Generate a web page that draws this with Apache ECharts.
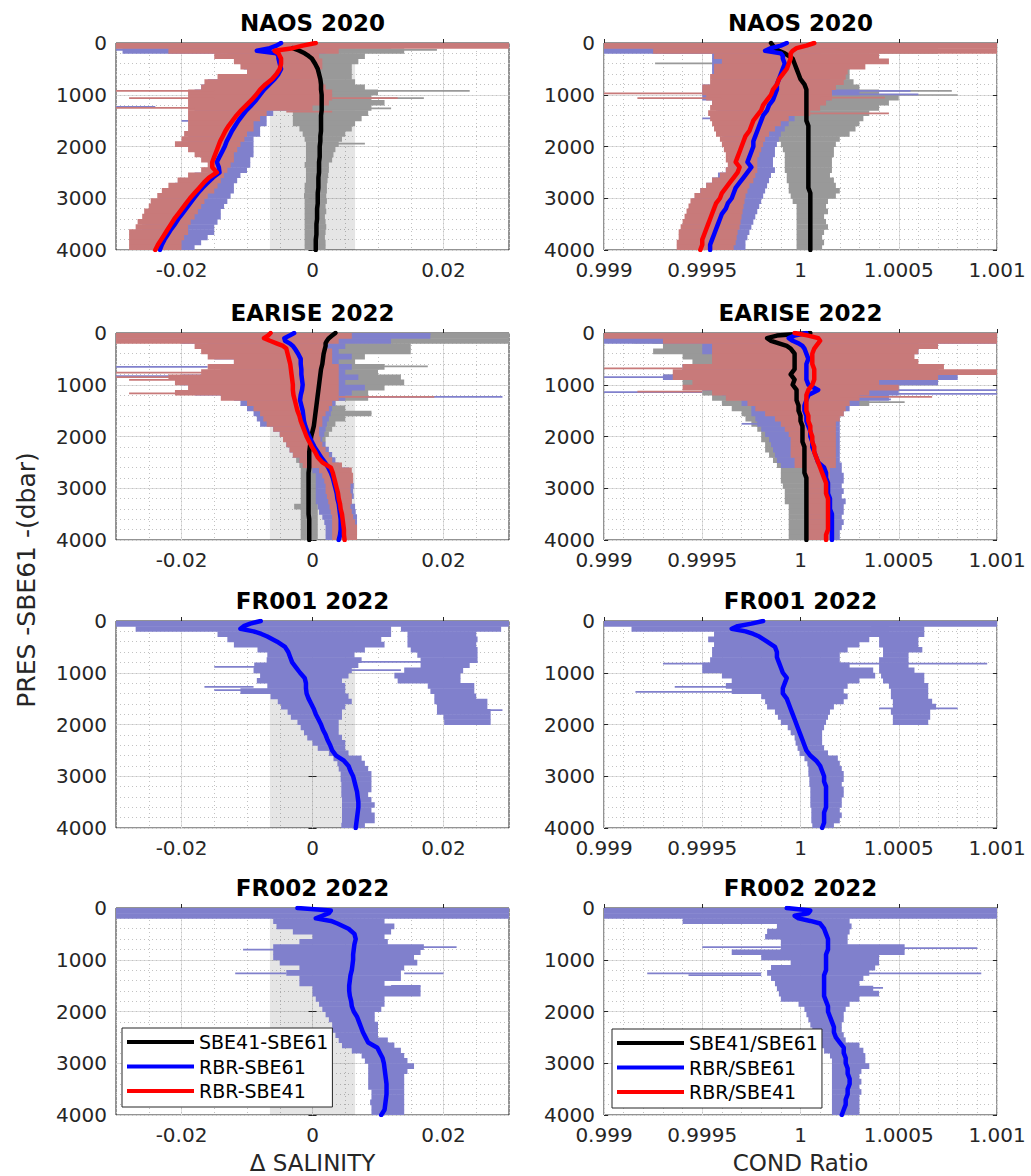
<!DOCTYPE html>
<html>
<head>
<meta charset="utf-8">
<title>Float sensor comparison profiles</title>
<script src="https://cdn.jsdelivr.net/npm/echarts@6/dist/echarts.min.js"></script>
<style>
  html, body { margin: 0; padding: 0; background: #ffffff; }
  #chart { width: 1031px; height: 1176px; }
</style>
</head>
<body>
<div id="chart"></div>
<script>
// ---------------------------------------------------------------------------
// Depth grids (dbar)
// ---------------------------------------------------------------------------
const BIN_EDGES = [0, 100, 200, 300, 400, 500, 600, 700, 800, 900, 1000, 1100, 1200, 1300,
  1400, 1500, 1600, 1700, 1800, 1900, 2000, 2100, 2200, 2300, 2400, 2500, 2600, 2700,
  2800, 2900, 3000, 3100, 3200, 3300, 3400, 3500, 3600, 3700, 3800, 3900, 4000];
const MED_DEPTH = [0, 50, 100, 150, 200, 250, 300,
  400, 500, 600, 700, 800, 900, 1000, 1100, 1200, 1300,
  1400, 1500, 1600, 1700, 1800, 1900, 2000, 2100, 2200, 2300,
  2400, 2500, 2600, 2700, 2800, 2900, 3000, 3100, 3200, 3300,
  3400, 3500, 3600, 3700, 3800, 3900, 4000];

const PRES_RANGE = [0, 4000];
const PRES_TICKS = [0, 1000, 2000, 3000, 4000];
const SAL_RANGE = [-0.03, 0.03];
const SAL_TICKS = [-0.02, 0, 0.02];
const COND_RANGE = [0.999, 1.001];
const COND_TICKS = [0.999, 0.9995, 1, 1.0005, 1.001];
const SALINITY_BAND = [-0.0065, 0.0065];

const SAL_NAMES = ['SBE41-SBE61', 'RBR-SBE61', 'RBR-SBE41'];
const COND_NAMES = ['SBE41/SBE61', 'RBR/SBE61', 'RBR/SBE41'];
const PANEL_TITLES = ['NAOS 2020', 'NAOS 2020', 'EARISE 2022', 'EARISE 2022',
  'FR001 2022', 'FR001 2022', 'FR002 2022', 'FR002 2022'];

// ---------------------------------------------------------------------------
// NAOS 2020 - salinity differences (per 100 dbar bin: min / max, then medians)
// ---------------------------------------------------------------------------
const NAOS_SAL_GREY_LO = [-0.005,-0.004,-0.003,-0.002,-0.002,-0.002,-0.002,-0.002,-0.002,-0.002,
  -0.002,-0.002,-0.002,-0.003,-0.003,-0.003,-0.002,-0.0015,-0.0012,-0.001,
  -0.001,-0.001,-0.001,-0.0012,-0.001,-0.001,-0.001,-0.0012,-0.0012,-0.0013,
  -0.0012,-0.0012,-0.0012,-0.0012,-0.0012,-0.0012,-0.0012,-0.0012,-0.0012,-0.0012];
const NAOS_SAL_GREY_HI = [0.012,0.014,0.008,0.007,0.006,0.006,0.006,0.0065,0.008,0.01,
  0.009,0.011,0.009,0.0085,0.0075,0.0065,0.006,0.005,0.0045,0.004,
  0.0035,0.0032,0.003,0.0025,0.0025,0.0024,0.0023,0.0022,0.0022,0.0021,
  0.0022,0.002,0.0021,0.0019,0.002,0.0021,0.002,0.0019,0.002,0.002];
const NAOS_SAL_BLUE_LO = [-0.03,-0.029,-0.013,-0.011,-0.0105,-0.01,-0.014,-0.016,-0.017,-0.018,
  -0.018,-0.018,-0.018,-0.018,-0.018,-0.018,-0.018,-0.019,-0.019,-0.02,
  -0.018,-0.017,-0.016,-0.0155,-0.016,-0.018,-0.019,-0.021,-0.022,-0.023,
  -0.0235,-0.024,-0.0245,-0.025,-0.0255,-0.026,-0.027,-0.027,-0.027,-0.027];
const NAOS_SAL_BLUE_HI = [0.003,0.002,-0.001,-0.002,-0.002,-0.003,-0.002,-0.002,-0.001,0.0,
  0.001,0.0,-0.002,-0.006,-0.007,-0.007,-0.008,-0.008,-0.009,-0.009,
  -0.009,-0.009,-0.0095,-0.0095,-0.01,-0.011,-0.0115,-0.012,-0.012,-0.0125,
  -0.013,-0.0135,-0.014,-0.014,-0.0145,-0.015,-0.015,-0.016,-0.017,-0.018];
const NAOS_SAL_RED_LO = [-0.03,-0.022,-0.015,-0.012,-0.011,-0.01,-0.0145,-0.0165,-0.017,-0.019,
  -0.019,-0.019,-0.019,-0.019,-0.019,-0.019,-0.019,-0.0196,-0.02,-0.021,
  -0.019,-0.018,-0.017,-0.016,-0.017,-0.019,-0.0206,-0.022,-0.023,-0.0237,
  -0.0247,-0.025,-0.0257,-0.026,-0.0267,-0.027,-0.028,-0.028,-0.028,-0.028];
const NAOS_SAL_RED_HI = [0.03,0.004,0.001,0.0015,0.0015,0.001,0.001,0.0015,0.002,0.003,
  0.003,0.0025,0.0,-0.007,-0.008,-0.009,-0.009,-0.01,-0.0104,-0.011,
  -0.0115,-0.012,-0.012,-0.0125,-0.013,-0.0135,-0.014,-0.0145,-0.015,-0.016,
  -0.0165,-0.017,-0.0175,-0.018,-0.0186,-0.019,-0.019,-0.0196,-0.02,-0.02];
// single-profile outliers: [pressure, min, max]
const NAOS_SAL_GREY_SPIKES = [[130,0.004,0.019],[920,0.001,0.024],[1060,0.001,0.017],[1260,0.001,0.012],[1940,0.001,0.008]];
const NAOS_SAL_BLUE_SPIKES = [[130,-0.03,-0.02],[1230,-0.03,-0.024],[1500,-0.02,-0.016]];
const NAOS_SAL_RED_SPIKES = [[920,-0.03,-0.015],[1060,-0.028,-0.015],[1250,-0.03,-0.018],[1060,0.003,0.013],[1320,-0.004,0.003]];
const NAOS_SAL_BLACK = [null,null,-0.003,-0.002,-0.0012,-0.0006,-0.0001,
  0.0004,0.0008,0.001,0.0012,0.0013,0.0013,0.0014,0.0014,0.0014,0.0014,
  0.0013,0.0013,0.0013,0.0013,0.0012,0.0012,0.0011,0.0011,0.0011,0.001,
  0.001,0.001,0.0009,0.0009,0.0009,0.0008,0.0008,0.0008,0.0007,0.0007,
  0.0007,0.0006,0.0006,0.0006,0.0005,0.0005,0.0005];
const NAOS_SAL_BLUE = [-0.0048,-0.0055,-0.0065,-0.0085,-0.0055,-0.0052,-0.0052,
  -0.005,-0.0048,-0.0052,-0.0058,-0.0066,-0.0074,-0.008,-0.0086,-0.0093,-0.0101,
  -0.0107,-0.0113,-0.0118,-0.0123,-0.0127,-0.0131,-0.0134,-0.0138,-0.0142,-0.0146,
  -0.0143,-0.0142,-0.0152,-0.016,-0.0168,-0.0175,-0.0181,-0.0187,-0.0193,-0.0199,
  -0.0205,-0.021,-0.0216,-0.0221,-0.0226,-0.023,-0.0233];
const NAOS_SAL_RED = [0.0005,-0.0015,-0.003,-0.0058,-0.0052,-0.005,-0.0048,
  -0.0048,-0.005,-0.0055,-0.0062,-0.0072,-0.008,-0.0086,-0.0093,-0.0101,-0.0109,
  -0.0116,-0.0122,-0.0128,-0.0133,-0.0137,-0.0141,-0.0144,-0.0147,-0.015,-0.0153,
  -0.0153,-0.0146,-0.0158,-0.0166,-0.0173,-0.018,-0.0187,-0.0193,-0.0199,-0.0205,
  -0.0211,-0.0216,-0.0221,-0.0226,-0.0231,-0.0236,-0.024];

// ---------------------------------------------------------------------------
// NAOS 2020 - conductivity ratios
// ---------------------------------------------------------------------------
const NAOS_COND_GREY_LO = [0.9998,0.9993,0.9996,0.9996,0.9997,0.9997,0.9997,0.9997,0.9997,0.9997,
  0.9997,0.9997,0.99975,0.99975,0.9998,0.99982,0.99985,0.99987,0.99988,0.9999,
  0.99991,0.99992,0.99992,0.99992,0.99992,0.99993,0.99993,0.99994,0.99994,0.99995,
  0.99996,0.99998,0.99998,0.99998,0.99998,0.99998,0.99998,0.99998,0.99998,0.99998];
const NAOS_COND_GREY_HI = [1.0006,1.0007,1.00035,1.0003,1.00025,1.00025,1.00025,1.00027,1.0003,1.0004,
  1.0005,1.00045,1.0004,1.00035,1.00032,1.0003,1.00028,1.00025,1.0002,1.00018,
  1.00017,1.00017,1.00016,1.00016,1.00016,1.00015,1.00017,1.00018,1.0002,1.00018,
  1.00014,1.00013,1.00014,1.00012,1.00013,1.00014,1.00012,1.00011,1.00012,1.00011];
const NAOS_COND_BLUE_LO = [0.999,0.999,0.99955,0.99955,0.99955,0.99955,0.99955,0.99955,0.9995,0.9995,
  0.9995,0.99955,0.99957,0.99958,0.99958,0.99958,0.99959,0.9996,0.99961,0.99962,
  0.99963,0.99964,0.99965,0.99965,0.99962,0.99958,0.99955,0.99952,0.99949,0.99947,
  0.99945,0.99944,0.99943,0.99942,0.99941,0.9994,0.99939,0.99939,0.99939,0.99939];
const NAOS_COND_BLUE_HI = [1.0002,1.0001,1.0001,1.00005,1.00005,1.00005,1.00005,1.00015,1.00015,1.0003,
  1.00015,1.0001,1.00005,0.99998,0.99997,0.99994,0.99992,0.9999,0.99989,0.99988,
  0.99987,0.99987,0.99986,0.99986,0.99987,0.99985,0.99984,0.99983,0.99982,0.99981,
  0.9998,0.99979,0.99978,0.99977,0.99976,0.99975,0.99974,0.99973,0.99972,0.99972];
const NAOS_COND_RED_LO = [0.999,0.99925,0.99956,0.9996,0.99956,0.99956,0.99954,0.99954,0.9995,0.9995,
  0.99952,0.99955,0.99954,0.99953,0.99954,0.99955,0.99956,0.99957,0.99959,0.9996,
  0.99961,0.99962,0.99962,0.99963,0.99962,0.99959,0.99955,0.99952,0.99949,0.99946,
  0.99944,0.99943,0.99942,0.99941,0.9994,0.99939,0.99938,0.99938,0.99937,0.99937];
const NAOS_COND_RED_HI = [1.001,1.001,1.0004,1.00045,1.00033,1.00024,1.00023,1.00022,1.00018,1.00016,
  1.00016,1.00013,1.0001,1.00005,0.99994,0.9999,0.99987,0.99984,0.99982,0.99981,
  0.9998,0.99979,0.99978,0.99978,0.99978,0.99977,0.99976,0.99974,0.99973,0.99972,
  0.999715,0.99971,0.999705,0.9997,0.999695,0.99969,0.99968,0.999675,0.99967,0.99966];
const NAOS_COND_GREY_SPIKES = [[390,0.99926,0.9997],[920,1.0001,1.00077],[1000,1.0001,1.0008],[150,0.9996,1.00095]];
const NAOS_COND_BLUE_SPIKES = [[130,0.999,0.99935],[920,1.00003,1.00056],[990,1.00005,1.0006],[1450,0.9995,0.99975]];
const NAOS_COND_RED_SPIKES = [[970,0.999,0.9995],[1060,0.99917,0.9996],[1050,1.0001,1.00043],[1355,1.0,1.00045]];
const NAOS_COND_BLACK = [0.99985,0.99986,0.99987,0.99989,0.99992,0.99994,0.99996,
  0.99997,0.99998,0.99999,1.0,1.00002,1.00003,1.00003,1.00003,1.00003,1.00003,
  1.00003,1.00003,1.00004,1.00004,1.00004,1.00004,1.00004,1.00004,1.00004,1.00004,
  1.00004,1.00004,1.00004,1.00004,1.00004,1.00005,1.00005,1.00005,1.00005,1.00005,
  1.00005,1.00005,1.00005,1.00005,1.00005,1.00005,1.00005];
const NAOS_COND_BLUE = [0.99993,0.9999,0.99985,0.99982,0.9999,0.99991,0.99991,
  0.99992,0.99991,0.9999,0.99989,0.99988,0.99988,0.99987,0.99986,0.99984,0.99983,
  0.99981,0.9998,0.99979,0.99978,0.99977,0.99976,0.99976,0.99975,0.99974,0.99973,
  0.99975,0.99973,0.99971,0.99969,0.99967,0.99966,0.99965,0.99963,0.99962,0.9996,
  0.99959,0.99958,0.99957,0.99956,0.99955,0.99954,0.99954];
const NAOS_COND_RED = [1.00007,1.00003,0.99998,0.99996,0.99995,0.99995,0.99995,
  0.99994,0.99993,0.99991,0.99989,0.99988,0.99986,0.99985,0.99983,0.99981,0.9998,
  0.99978,0.99976,0.99975,0.99974,0.99972,0.99971,0.9997,0.99969,0.99968,0.99967,
  0.99969,0.99968,0.99966,0.99964,0.99962,0.9996,0.99959,0.99957,0.99956,0.99955,
  0.99954,0.99953,0.99952,0.99951,0.9995,0.9995,0.99949];

// ---------------------------------------------------------------------------
// EARISE 2022 - salinity differences
// ---------------------------------------------------------------------------
const EARISE_SAL_GREY_LO = [-0.001,-0.001,-0.001,-0.001,-0.001,-0.001,-0.001,-0.001,-0.001,-0.001,
  -0.001,-0.001,-0.001,-0.002,-0.002,-0.002,-0.002,-0.002,-0.002,-0.002,
  -0.002,-0.002,-0.002,-0.0025,-0.0025,-0.002,-0.0018,-0.0018,-0.0018,-0.0018,
  -0.0018,-0.0018,-0.0018,-0.0028,-0.0018,-0.0018,-0.0018,-0.0018,-0.0018,-0.0018];
const EARISE_SAL_GREY_HI = [0.03,0.03,0.015,0.015,0.008,0.0065,0.011,0.01,0.0135,0.014,
  0.011,0.0085,0.0085,0.0035,0.005,0.009,0.005,0.0035,0.003,0.0025,
  0.002,0.0018,0.0015,0.001,0.001,0.0008,0.0008,0.0008,0.0008,0.0008,
  0.0008,0.0008,0.0008,0.0008,0.0008,0.0008,0.0008,0.0008,0.0008,0.0008];
const EARISE_SAL_BLUE_LO = [-0.03,-0.02,-0.016,-0.015,-0.015,-0.012,-0.014,-0.014,-0.02,-0.02,
  -0.018,-0.018,-0.012,-0.011,-0.01,-0.009,-0.0085,-0.008,-0.006,-0.005,
  -0.004,-0.004,-0.0035,-0.003,-0.002,-0.001,0.0,0.0005,0.0005,0.0005,
  0.0005,0.0005,0.0005,0.0008,0.001,0.0015,0.0018,0.002,0.002,0.002];
const EARISE_SAL_BLUE_HI = [0.018,0.012,0.005,0.004,0.006,0.004,0.006,0.005,0.007,0.005,
  0.008,0.006,0.005,0.0035,0.003,0.0028,0.0025,0.0022,0.002,0.0018,
  0.0015,0.002,0.0025,0.003,0.0035,0.004,0.0055,0.006,0.0062,0.0063,
  0.0062,0.0063,0.006,0.0065,0.0066,0.0068,0.0068,0.0068,0.0068,0.0065];
const EARISE_SAL_RED_LO = [-0.03,-0.03,-0.018,-0.017,-0.016,-0.012,-0.016,-0.017,-0.022,-0.021,
  -0.019,-0.021,-0.014,-0.01,-0.009,-0.008,-0.0075,-0.007,-0.006,-0.005,
  -0.0045,-0.004,-0.0035,-0.003,-0.002,-0.0015,0.001,0.0015,0.0018,0.002,
  0.002,0.0022,0.0024,0.0026,0.0028,0.003,0.003,0.003,0.003,0.003];
const EARISE_SAL_RED_HI = [0.006,0.004,0.002,0.003,0.003,0.003,0.004,0.004,0.004,0.004,
  0.004,0.004,0.004,0.003,0.0025,0.002,0.0015,0.0015,0.001,0.001,
  0.0012,0.0015,0.002,0.0025,0.003,0.0045,0.006,0.0062,0.0062,0.0058,
  0.0058,0.006,0.006,0.0058,0.006,0.0062,0.0065,0.0068,0.0068,0.0068];
const EARISE_SAL_GREY_SPIKES = [[640,0.008,0.0176],[1550,0.003,0.009]];
const EARISE_SAL_BLUE_SPIKES = [[20,0.005,0.018],[650,-0.03,-0.016],[830,-0.03,-0.02],[1230,0.008,0.029]];
const EARISE_SAL_RED_SPIKES = [[760,-0.03,-0.016],[850,-0.03,-0.02],[900,-0.028,-0.02],[1160,-0.028,-0.018],[1230,0.004,0.0186]];
const EARISE_SAL_BLACK = [0.0035,0.003,0.0025,0.0022,0.002,0.002,0.0019,
  0.0017,0.0016,0.0015,0.0013,0.0012,0.0011,0.001,0.0009,0.0008,0.0007,
  0.0006,0.0005,0.0004,0.0003,0.0002,0.0,-0.0002,-0.0003,-0.0004,-0.0005,
  -0.0005,-0.0005,-0.0005,-0.0006,-0.0006,-0.0006,-0.0006,-0.0006,-0.0006,-0.0006,
  -0.0006,-0.0006,-0.0005,-0.0005,-0.0005,-0.0005,-0.0005];
const EARISE_SAL_BLUE = [-0.0028,-0.0035,-0.0043,-0.0042,-0.0035,-0.003,-0.0027,
  -0.0022,-0.0018,-0.0018,-0.0017,-0.0017,-0.0016,-0.0015,-0.0016,-0.0018,-0.0019,
  -0.0017,-0.0015,-0.0014,-0.0013,-0.0011,-0.0008,-0.0005,-0.0001,0.0003,0.0008,
  0.0013,0.0019,0.0024,0.0028,0.0031,0.0033,0.0035,0.0037,0.0038,0.004,
  0.0041,0.0042,0.0043,0.0043,0.0043,0.0042,0.004];
const EARISE_SAL_RED = [-0.0064,-0.0068,-0.0074,-0.0065,-0.0055,-0.0045,-0.004,
  -0.0038,-0.0036,-0.0034,-0.0033,-0.0032,-0.0031,-0.003,-0.003,-0.0029,-0.0027,
  -0.0025,-0.0023,-0.002,-0.0018,-0.0015,-0.0012,-0.0009,-0.0005,-0.0001,0.0004,
  0.0008,0.0015,0.0028,0.0031,0.0033,0.0035,0.0037,0.0039,0.004,0.0042,
  0.0043,0.0045,0.0046,0.0047,0.0048,0.0048,0.0049];

// ---------------------------------------------------------------------------
// EARISE 2022 - conductivity ratios
// ---------------------------------------------------------------------------
const EARISE_COND_GREY_LO = [0.9995,0.99925,0.9993,0.99925,0.9994,0.99945,0.9994,0.9994,0.9993,0.9994,
  0.9995,0.9995,0.99955,0.9996,0.99965,0.9997,0.99972,0.99975,0.99978,0.9998,
  0.9998,0.99982,0.99982,0.99984,0.99986,0.99988,0.9999,0.9999,0.9999,0.99991,
  0.99992,0.99992,0.99992,0.99994,0.99994,0.99994,0.99994,0.99994,0.99994,0.99994];
const EARISE_COND_GREY_HI = [1.0006,1.0006,1.0003,1.0003,1.0003,1.0003,1.0005,1.0007,1.00072,1.0007,
  1.0004,1.0003,1.0003,1.00035,1.0002,1.00015,1.00012,1.0001,1.0001,1.00008,
  1.00006,1.00006,1.00006,1.00006,1.00006,1.00006,1.00006,1.00006,1.00006,1.00006,
  1.00006,1.00006,1.00006,1.00006,1.00006,1.00006,1.00006,1.00006,1.00006,1.00006];
const EARISE_COND_BLUE_LO = [0.999,0.999,0.9995,0.9995,0.9996,0.9996,0.9994,0.9995,0.9993,0.9995,
  0.9995,0.9996,0.9997,0.9997,0.99975,0.99975,0.99977,0.99978,0.9998,0.99982,
  0.99984,0.99985,0.99986,0.99987,0.99988,0.9999,1.00005,1.00005,1.00005,1.00005,
  1.00005,1.00005,1.00005,1.00005,1.00005,1.00005,1.00005,1.00005,1.00005,1.00005];
const EARISE_COND_BLUE_HI = [1.001,1.001,1.0005,1.0006,1.0005,1.0005,1.0006,1.0007,1.0008,1.0007,
  1.0005,1.0005,1.00045,1.0003,1.00025,1.00022,1.0002,1.0002,1.0002,1.0002,
  1.0002,1.0002,1.0002,1.0002,1.0002,1.00021,1.00021,1.00022,1.00022,1.00021,
  1.00022,1.00021,1.00023,1.00022,1.00022,1.00021,1.00022,1.00021,1.0002,1.0002];
const EARISE_COND_RED_LO = [0.999,0.9993,0.99955,0.99955,0.99955,0.99955,0.9994,0.99935,0.99935,0.99945,
  0.9994,0.99955,0.99962,0.99973,0.99977,0.99982,0.99987,0.9999,0.99992,0.99994,
  0.99995,0.99995,0.99995,0.99995,0.99997,0.99997,1.00003,1.00003,1.00003,1.00003,
  1.00003,1.00003,1.00003,1.00003,1.00003,1.00003,1.00003,1.00003,1.00003,1.00003];
const EARISE_COND_RED_HI = [1.001,1.001,1.0007,1.0006,1.00058,1.0006,1.00073,1.001,1.0007,1.0004,
  1.0005,1.00035,1.0003,1.00025,1.00023,1.00022,1.0002,1.00018,1.00018,1.00018,
  1.00018,1.00018,1.00018,1.00018,1.00018,1.00018,1.00015,1.00015,1.00015,1.00015,
  1.00015,1.00015,1.00015,1.00015,1.00015,1.00015,1.00015,1.00015,1.00015,1.00015];
const EARISE_COND_GREY_SPIKES = [[1330,0.9996,1.00053],[180,0.99915,0.9994]];
const EARISE_COND_BLUE_SPIKES = [[100,0.999,0.99954],[140,0.999,0.99944],[850,0.999,0.99935],[1140,0.999,0.9995],
  [1100,1.0004,1.001],[1170,1.0004,1.001],[1280,1.0002,1.00046],[1750,0.9997,0.9998]];
const EARISE_COND_RED_SPIKES = [[680,0.999,0.9994],[1130,0.99917,0.9995],[1230,1.0002,1.00067]];
const EARISE_COND_BLACK = [1.00005,0.99988,0.99983,0.99985,0.99989,0.99993,0.99995,
  0.99997,0.99997,0.99997,0.99997,0.99995,0.99997,0.99996,0.99998,0.99998,0.99998,
  0.99999,0.99999,1.0,1.0,1.00001,1.00001,1.00001,1.00001,1.00002,1.00002,
  1.00002,1.00002,1.00002,1.00002,1.00003,1.00003,1.00003,1.00003,1.00003,1.00003,
  1.00003,1.00003,1.00003,1.00003,1.00003,1.00003,1.00003];
const EARISE_COND_BLUE = [1.00003,0.99997,0.99994,0.99996,0.99999,1.00001,1.00002,
  1.00003,1.00004,1.00003,1.00003,1.00003,1.00003,1.00004,1.00009,1.00004,1.00003,
  1.00002,1.00002,1.00003,1.00003,1.00004,1.00005,1.00005,1.00006,1.00006,1.00007,
  1.00008,1.00009,1.00012,1.00013,1.00013,1.00014,1.00014,1.00014,1.00015,1.00015,
  1.00015,1.00016,1.00016,1.00016,1.00016,1.00016,1.00016];
const EARISE_COND_RED = [0.99997,1.00004,1.00009,1.0001,1.00009,1.00008,1.00007,
  1.00006,1.00006,1.00006,1.00007,1.00007,1.00007,1.00006,1.00004,1.00003,1.00003,
  1.00003,1.00003,1.00004,1.00004,1.00005,1.00005,1.00006,1.00006,1.00007,1.00007,
  1.00008,1.00009,1.0001,1.00011,1.00012,1.00013,1.00013,1.00013,1.00014,1.00014,
  1.00014,1.00014,1.00014,1.00014,1.00014,1.00013,1.00013];

// ---------------------------------------------------------------------------
// FR001 2022 (RBR vs SBE61 only; a second group of profiles sits at high offsets)
// ---------------------------------------------------------------------------
const FR001_SAL_BLUE_LO = [-0.03,-0.027,-0.0145,-0.013,-0.012,-0.0084,-0.0069,-0.007,-0.0089,-0.009,
  -0.008,-0.0085,-0.0069,-0.011,-0.0064,-0.0053,-0.0048,-0.0038,-0.0033,-0.0023,
  -0.0018,-0.0013,-0.0008,0.0,0.0008,0.0025,0.0032,0.0038,0.004,0.0043,
  0.0043,0.0044,0.0044,0.0044,0.0045,0.0045,0.0045,0.0045,0.0045,0.0044];
const FR001_SAL_BLUE_HI = [0.03,0.012,0.012,0.0105,0.011,0.008,0.0064,0.0075,0.007,0.006,
  0.0055,0.0045,0.005,0.005,0.0055,0.006,0.005,0.0045,0.0045,0.004,
  0.004,0.004,0.0045,0.005,0.005,0.0055,0.0075,0.008,0.0085,0.009,
  0.009,0.009,0.009,0.0085,0.009,0.0095,0.009,0.0095,0.0095,0.008];
const FR001_SAL_OUTER_LO = [null,0.0135,0.0145,0.0145,0.0145,0.015,0.016,0.0165,0.0165,0.014,
  0.0125,0.013,0.0176,0.018,0.0186,0.0186,0.019,0.019,0.02,0.0201,
  null,null,null,null,null,null,null,null,null,null,
  null,null,null,null,null,null,null,null,null,null];
const FR001_SAL_OUTER_HI = [null,0.0288,0.025,0.0252,0.025,0.0252,0.0252,0.0252,0.024,0.023,
  0.0226,0.0226,0.0247,0.0247,0.025,0.0267,0.0267,0.0272,0.0272,0.0272,
  null,null,null,null,null,null,null,null,null,null,
  null,null,null,null,null,null,null,null,null,null];
const FR001_SAL_BLUE_SPIKES = [[784,0.0023,0.0252],[881,-0.015,-0.008],[945,0.004,0.0135],[1267,-0.0165,-0.009],[1331,-0.015,-0.009],[1717,0.024,0.029]];
const FR001_SAL_BLUE = [-0.0079,-0.0095,-0.0105,-0.011,-0.009,-0.0078,-0.0069,
  -0.0054,-0.0042,-0.0037,-0.0034,-0.0031,-0.0025,-0.0019,-0.0012,-0.001,-0.001,
  -0.0009,-0.0006,-0.0002,0.0002,0.0005,0.0009,0.0013,0.0016,0.002,0.0023,
  0.0027,0.003,0.0036,0.0048,0.0055,0.0058,0.0062,0.0064,0.0066,0.0068,
  0.0069,0.007,0.007,0.0069,0.0068,0.0067,0.0066];

const FR001_COND_BLUE_LO = [0.999,0.99914,0.99956,0.99953,0.99956,0.99955,0.99955,0.99954,0.9995,0.9995,
  0.9996,0.99965,0.99962,0.99965,0.9998,0.99982,0.99983,0.99987,0.999885,0.9999,
  0.999935,0.99995,0.99997,0.999975,0.999985,0.999995,1.00002,1.000035,1.00004,1.00004,
  1.000045,1.000045,1.00005,1.00005,1.00005,1.00005,1.000055,1.000055,1.000055,1.00006];
const FR001_COND_BLUE_HI = [1.001,1.00045,1.0004,1.00035,1.0003,1.00024,1.0002,1.0002,1.00025,1.00037,
  1.00038,1.0003,1.00024,1.00022,1.00024,1.00022,1.00017,1.00015,1.00014,1.00013,
  1.00012,1.00011,1.00011,1.00011,1.00012,1.00014,1.00019,1.0002,1.00021,1.00022,
  1.00022,1.00021,1.00022,1.00022,1.00021,1.00021,1.0002,1.00021,1.0002,1.00017];
const FR001_COND_OUTER_LO = [null,1.00036,1.00036,1.0004,1.0004,1.00042,1.00042,1.0004,1.0004,1.0004,
  1.00041,1.00042,1.00045,1.00046,1.00046,1.00047,1.00047,1.00046,1.00047,1.00047,
  null,null,null,null,null,null,null,null,null,null,
  null,null,null,null,null,null,null,null,null,null];
const FR001_COND_OUTER_HI = [null,1.00063,1.00063,1.0006,1.0006,1.00062,1.00055,1.00055,1.00055,1.00058,
  1.00063,1.00063,1.00065,1.00065,1.00065,1.00067,1.00069,1.00066,1.00066,1.00065,
  null,null,null,null,null,null,null,null,null,null,
  null,null,null,null,null,null,null,null,null,null];
const FR001_COND_BLUE_SPIKES = [[817,0.9993,1.00095],[1267,0.99936,0.9997],[1363,0.99916,0.9997],[1685,1.0004,1.0008]];
const FR001_COND_BLUE = [0.99981,0.99975,0.99968,0.99965,0.99972,0.99976,0.99979,
  0.99983,0.99987,0.99988,0.99988,0.99989,0.9999,0.99991,0.99993,0.99992,0.99991,
  0.99991,0.99993,0.99994,0.99995,0.99996,0.99997,0.99998,0.99999,1.0,1.00001,
  1.00002,1.00003,1.00005,1.00008,1.0001,1.00011,1.00012,1.00012,1.00013,1.00013,
  1.00013,1.00013,1.00013,1.00012,1.00012,1.00012,1.00011];

// ---------------------------------------------------------------------------
// FR002 2022 (RBR vs SBE61 only)
// ---------------------------------------------------------------------------
const FR002_SAL_BLUE_LO = [-0.03,-0.03,-0.006,-0.0055,-0.003,0.0,-0.002,-0.006,-0.006,-0.006,
  -0.005,-0.002,-0.004,-0.002,-0.002,0.0,0.0,0.0005,0.001,0.0015,
  0.002,0.0025,0.003,0.003,0.0035,0.004,0.0045,0.006,0.0075,0.008,
  0.0085,0.0085,0.0085,0.0085,0.0085,0.009,0.009,0.0088,0.009,0.009];
const FR002_SAL_BLUE_HI = [0.03,0.03,0.011,0.0125,0.012,0.011,0.0115,0.017,0.0165,0.0155,
  0.016,0.014,0.0135,0.0135,0.011,0.0165,0.0165,0.011,0.011,0.0105,
  0.0095,0.0095,0.01,0.01,0.01,0.0115,0.0125,0.0135,0.014,0.0145,
  0.0155,0.0145,0.014,0.014,0.014,0.014,0.014,0.014,0.014,0.014];
const FR002_SAL_BLUE_SPIKES = [[750,0.014,0.022],[800,-0.0106,-0.004],[1260,-0.0118,-0.004],[1260,0.014,0.02],[1500,0.012,0.0165]];
const FR002_SAL_BLUE = [-0.0023,0.0028,0.0025,0.0015,0.0005,0.0028,0.0038,
  0.0055,0.0064,0.0066,0.0064,0.0063,0.0062,0.0062,0.0061,0.006,0.0058,
  0.0057,0.0056,0.0056,0.0057,0.0059,0.006,0.0063,0.0068,0.0071,0.0074,
  0.0077,0.0081,0.0085,0.0099,0.0103,0.0107,0.0109,0.011,0.0111,0.0112,
  0.0113,0.0113,0.0113,0.0112,0.0111,0.011,0.0105];

const FR002_COND_BLUE_LO = [0.999,0.999,0.9994,0.99988,0.99983,0.99982,0.9999,0.9999,0.99965,0.9998,
  0.99995,0.99985,0.99983,0.99985,0.99987,0.99988,0.99989,0.9999,0.99999,1.00002,
  1.00003,1.00004,1.00005,1.00006,1.00007,1.00009,1.0001,1.00012,1.00015,1.00016,
  1.00016,1.00016,1.00016,1.00016,1.00016,1.00016,1.00016,1.00016,1.00016,1.00016];
const FR002_COND_BLUE_HI = [1.001,1.001,1.00025,1.00026,1.00025,1.00024,1.00024,1.00053,1.00053,1.0004,
  1.0004,1.00038,1.00035,1.00032,1.0003,1.00037,1.0004,1.0003,1.00025,1.00023,
  1.00022,1.00022,1.00021,1.00021,1.00022,1.00023,1.0003,1.00032,1.00033,1.00033,
  1.00035,1.00031,1.0003,1.00031,1.0003,1.00031,1.0003,1.0003,1.0003,1.0003];
const FR002_COND_BLUE_SPIKES = [[750,0.9995,0.9999],[770,1.0004,1.0009],[1260,0.99922,0.9998],[1290,0.99943,0.9998],[1260,1.0003,1.00092],[1540,1.0002,1.00042]];
const FR002_COND_BLUE = [0.99993,1.00005,1.00004,0.99997,0.99999,1.00005,1.0001,
  1.00012,1.00013,1.00014,1.00014,1.00014,1.00013,1.00013,1.00013,1.00013,1.00012,
  1.00012,1.00012,1.00012,1.00012,1.00013,1.00014,1.00014,1.00015,1.00016,1.00017,
  1.00017,1.00018,1.0002,1.00022,1.00022,1.00023,1.00023,1.00024,1.00024,1.00025,
  1.00025,1.00024,1.00024,1.00023,1.00023,1.00022,1.00021];

// ---------------------------------------------------------------------------
// Styling
// ---------------------------------------------------------------------------
const FONT = '"DejaVu Sans", "Liberation Sans", sans-serif';
const TEXT_COLOR = '#262626';
const AXIS_COLOR = '#262626';
const MAJOR_GRID = '#dedede';
const MINOR_GRID = '#c2c2c2';
const BAND_COLOR = 'rgba(0,0,0,0.1)';
const RANGE_COLOR = { grey: '#999999', blue: '#8080cc', red: '#c87a7a' };
const LINE_COLOR = { grey: '#000000', blue: '#0000ff', red: '#ff0000' };
const GRID_LEFT = [116, 604];
const GRID_TOP = [43, 333, 621, 908];
const GRID_W = 393;
const GRID_H = 207;
const SPIKE_HALF = 12;   // half thickness of a single-profile bar, dbar

// ---------------------------------------------------------------------------
// Panels
// ---------------------------------------------------------------------------
function tri(key, lo, hi, spikes, median) { return { key, lo, hi, spikes, median }; }
const PANELS = [
  { kind: 'sal', sets: [
      tri('grey', NAOS_SAL_GREY_LO, NAOS_SAL_GREY_HI, NAOS_SAL_GREY_SPIKES, NAOS_SAL_BLACK),
      tri('blue', NAOS_SAL_BLUE_LO, NAOS_SAL_BLUE_HI, NAOS_SAL_BLUE_SPIKES, NAOS_SAL_BLUE),
      tri('red', NAOS_SAL_RED_LO, NAOS_SAL_RED_HI, NAOS_SAL_RED_SPIKES, NAOS_SAL_RED)] },
  { kind: 'cond', sets: [
      tri('grey', NAOS_COND_GREY_LO, NAOS_COND_GREY_HI, NAOS_COND_GREY_SPIKES, NAOS_COND_BLACK),
      tri('blue', NAOS_COND_BLUE_LO, NAOS_COND_BLUE_HI, NAOS_COND_BLUE_SPIKES, NAOS_COND_BLUE),
      tri('red', NAOS_COND_RED_LO, NAOS_COND_RED_HI, NAOS_COND_RED_SPIKES, NAOS_COND_RED)] },
  { kind: 'sal', sets: [
      tri('grey', EARISE_SAL_GREY_LO, EARISE_SAL_GREY_HI, EARISE_SAL_GREY_SPIKES, EARISE_SAL_BLACK),
      tri('blue', EARISE_SAL_BLUE_LO, EARISE_SAL_BLUE_HI, EARISE_SAL_BLUE_SPIKES, EARISE_SAL_BLUE),
      tri('red', EARISE_SAL_RED_LO, EARISE_SAL_RED_HI, EARISE_SAL_RED_SPIKES, EARISE_SAL_RED)] },
  { kind: 'cond', sets: [
      tri('grey', EARISE_COND_GREY_LO, EARISE_COND_GREY_HI, EARISE_COND_GREY_SPIKES, EARISE_COND_BLACK),
      tri('blue', EARISE_COND_BLUE_LO, EARISE_COND_BLUE_HI, EARISE_COND_BLUE_SPIKES, EARISE_COND_BLUE),
      tri('red', EARISE_COND_RED_LO, EARISE_COND_RED_HI, EARISE_COND_RED_SPIKES, EARISE_COND_RED)] },
  { kind: 'sal', sets: [
      tri('blue', FR001_SAL_BLUE_LO, FR001_SAL_BLUE_HI, FR001_SAL_BLUE_SPIKES, FR001_SAL_BLUE)],
    outer: [FR001_SAL_OUTER_LO, FR001_SAL_OUTER_HI] },
  { kind: 'cond', sets: [
      tri('blue', FR001_COND_BLUE_LO, FR001_COND_BLUE_HI, FR001_COND_BLUE_SPIKES, FR001_COND_BLUE)],
    outer: [FR001_COND_OUTER_LO, FR001_COND_OUTER_HI] },
  { kind: 'sal', sets: [
      tri('blue', FR002_SAL_BLUE_LO, FR002_SAL_BLUE_HI, FR002_SAL_BLUE_SPIKES, FR002_SAL_BLUE)] },
  { kind: 'cond', sets: [
      tri('blue', FR002_COND_BLUE_LO, FR002_COND_BLUE_HI, FR002_COND_BLUE_SPIKES, FR002_COND_BLUE)] }
];
const NAME_INDEX = { grey: 0, blue: 1, red: 2 };

// ---------------------------------------------------------------------------
// Helpers
// ---------------------------------------------------------------------------
function binRows(lo, hi) {
  const rows = [];
  for (let i = 0; i < lo.length; i++) {
    if (lo[i] === null || hi[i] === null) continue;
    rows.push([lo[i], hi[i], BIN_EDGES[i], BIN_EDGES[i + 1]]);
  }
  return rows;
}
function spikeRows(spikes) {
  return spikes.map(s => [s[1], s[2], s[0] - SPIKE_HALF, s[0] + SPIKE_HALF]);
}
function medianRows(values) {
  const rows = [];
  values.forEach((v, k) => { if (v !== null) rows.push([v, MED_DEPTH[k]]); });
  return rows;
}
// horizontal bar spanning [min, max] over a pressure interval
function renderRange(params, api) {
  const a = api.coord([api.value(0), api.value(2)]);
  const b = api.coord([api.value(1), api.value(3)]);
  return {
    type: 'rect',
    shape: {
      x: Math.min(a[0], b[0]),
      y: Math.min(a[1], b[1]),
      width: Math.abs(b[0] - a[0]),
      height: Math.abs(b[1] - a[1]) + 0.5
    },
    style: { fill: api.visual('color') }
  };
}
const plainNumber = v => String(v);

const grids = [], xAxes = [], yAxes = [], series = [], graphics = [];

PANELS.forEach((p, g) => {
  const col = g % 2, row = Math.floor(g / 2);
  const sal = p.kind === 'sal';
  const range = sal ? SAL_RANGE : COND_RANGE;
  const names = sal ? SAL_NAMES : COND_NAMES;
  const ticks = sal ? SAL_TICKS : COND_TICKS;

  grids.push({
    left: GRID_LEFT[col], top: GRID_TOP[row], width: GRID_W, height: GRID_H,
    show: true, borderColor: AXIS_COLOR, borderWidth: 1, backgroundColor: 'rgba(0,0,0,0)',
    outerBoundsMode: 'none'
  });

  xAxes.push({
    type: 'value', gridIndex: g, position: 'bottom',
    min: range[0], max: range[1], interval: sal ? 0.01 : 0.0005,
    axisLine: { show: false },
    axisTick: { show: true, inside: true, length: 4, lineStyle: { color: AXIS_COLOR }, customValues: ticks },
    axisLabel: { fontSize: 20, color: TEXT_COLOR, fontFamily: FONT, margin: 10,
      showMinLabel: true, showMaxLabel: true, customValues: ticks, formatter: plainNumber },
    splitLine: { show: true, lineStyle: { color: MAJOR_GRID, width: 1 } }
  });
  xAxes.push({
    type: 'value', gridIndex: g, position: 'top',
    min: range[0], max: range[1], interval: sal ? 0.005 : 0.0001,
    axisLine: { show: false }, axisTick: { show: false }, axisLabel: { show: false },
    splitLine: { show: true, lineStyle: { color: MINOR_GRID, width: 1, type: [1, 3] } }
  });

  yAxes.push({
    type: 'value', gridIndex: g, position: 'left', inverse: true,
    min: PRES_RANGE[0], max: PRES_RANGE[1], interval: 1000,
    axisLine: { show: false },
    axisTick: { show: true, inside: true, length: 4, lineStyle: { color: AXIS_COLOR } },
    axisLabel: { fontSize: 20, color: TEXT_COLOR, fontFamily: FONT, margin: 9,
      customValues: PRES_TICKS, formatter: plainNumber },
    splitLine: { show: true, lineStyle: { color: MAJOR_GRID, width: 1 } }
  });
  yAxes.push({
    type: 'value', gridIndex: g, position: 'right', inverse: true,
    min: PRES_RANGE[0], max: PRES_RANGE[1], interval: 1000,
    axisLine: { show: false },
    axisTick: { show: true, inside: true, length: 4, lineStyle: { color: AXIS_COLOR } },
    axisLabel: { show: false }, splitLine: { show: false }
  });
  yAxes.push({
    type: 'value', gridIndex: g, position: 'left', inverse: true,
    min: PRES_RANGE[0], max: PRES_RANGE[1], interval: 200,
    axisLine: { show: false }, axisTick: { show: false }, axisLabel: { show: false },
    splitLine: { show: true, lineStyle: { color: MINOR_GRID, width: 1, type: [1, 3] } }
  });

  const xi = 2 * g, yi = 3 * g;
  const rangeBase = {
    type: 'custom', xAxisIndex: xi, yAxisIndex: yi, renderItem: renderRange,
    encode: { x: [0, 1], y: [2, 3] }, clip: true, silent: true, animation: false
  };

  if (sal) {
    series.push(Object.assign({}, rangeBase, {
      name: 'accuracy band ' + g, z: 1,
      itemStyle: { color: BAND_COLOR },
      data: [[SALINITY_BAND[0], SALINITY_BAND[1], PRES_RANGE[0], PRES_RANGE[1]]]
    }));
  }
  p.sets.forEach(s => {
    let rows = binRows(s.lo, s.hi);
    if (s.key === 'blue' && p.outer) rows = rows.concat(binRows(p.outer[0], p.outer[1]));
    rows = rows.concat(spikeRows(s.spikes));
    series.push(Object.assign({}, rangeBase, {
      name: names[NAME_INDEX[s.key]] + ' spread ' + g, z: 2,
      itemStyle: { color: RANGE_COLOR[s.key] },
      data: rows
    }));
  });
  p.sets.forEach(s => {
    series.push({
      type: 'line', name: names[NAME_INDEX[s.key]], xAxisIndex: xi, yAxisIndex: yi,
      color: LINE_COLOR[s.key], z: 5,
      data: medianRows(s.median),
      showSymbol: false, symbol: 'none', silent: true, animation: false, clip: true,
      lineStyle: { width: 4.5, color: LINE_COLOR[s.key], join: 'round', cap: 'round' }
    });
  });

  // panel title
  graphics.push({
    type: 'text', x: GRID_LEFT[col] + GRID_W / 2, y: GRID_TOP[row] - 20, silent: true,
    style: {
      text: PANEL_TITLES[g], fontSize: 23, fontWeight: 'bold', fontFamily: FONT, fill: '#000000',
      align: 'center', verticalAlign: 'middle', textAlign: 'center', textVerticalAlign: 'middle'
    }
  });
});

// axis names
graphics.push({
  type: 'text', x: GRID_LEFT[0] + GRID_W / 2, y: 1163, silent: true,
  style: { text: 'Δ SALINITY', fontSize: 23, fontFamily: FONT, fill: TEXT_COLOR,
    align: 'center', verticalAlign: 'middle', textAlign: 'center', textVerticalAlign: 'middle' }
});
graphics.push({
  type: 'text', x: GRID_LEFT[1] + GRID_W / 2, y: 1163, silent: true,
  style: { text: 'COND Ratio', fontSize: 23, fontFamily: FONT, fill: TEXT_COLOR,
    align: 'center', verticalAlign: 'middle', textAlign: 'center', textVerticalAlign: 'middle' }
});
graphics.push({
  type: 'text', x: 26, y: 580, rotation: Math.PI / 2, silent: true,
  style: { text: 'PRES -SBE61 -(dbar)', fontSize: 25, fontFamily: FONT, fill: TEXT_COLOR,
    align: 'center', verticalAlign: 'middle', textAlign: 'center', textVerticalAlign: 'middle' }
});

function legendAt(left, top, names) {
  return {
    orient: 'vertical', left: left, top: top, data: names,
    icon: 'rect', itemWidth: 67, itemHeight: 4, itemGap: 4.5,
    padding: [4, 4, 6, 5],
    backgroundColor: '#ffffff', borderColor: AXIS_COLOR, borderWidth: 1, borderRadius: 0,
    textStyle: { fontSize: 19, lineHeight: 20, color: '#000000', fontFamily: FONT },
    z: 10
  };
}

const chart = echarts.init(document.getElementById('chart'), null, { renderer: 'svg', width: 1031, height: 1176 });
chart.setOption({
  backgroundColor: '#ffffff',
  animation: false,
  grid: grids,
  xAxis: xAxes,
  yAxis: yAxes,
  series: series,
  legend: [legendAt(122, 1028, SAL_NAMES), legendAt(612, 1029, COND_NAMES)],
  graphic: graphics
});
</script>
</body>
</html>
